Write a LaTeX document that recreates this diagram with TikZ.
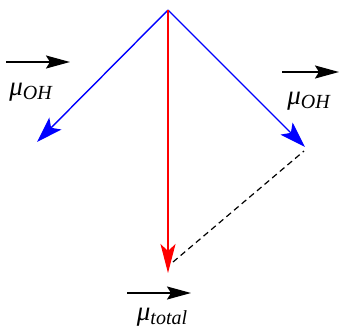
\documentclass[tikz,border=0pt]{standalone}
\usepackage{fontspec}
\setmainfont{Liberation Serif}
\usetikzlibrary{arrows.meta}

\newcommand{\dipole}[1]{\textit{μ}\raisebox{-0.35ex}{\fontsize{20}{22}\selectfont\textit{#1}}}

\begin{document}
\begin{tikzpicture}[
      x=1pt, y=-1pt,
      every node/.style={font=\fontsize{27}{30}\selectfont, inner sep=0pt},
      bond/.style={blue, line width=1.4pt,
                   -{Stealth[length=26pt, width=17pt, inset=6pt]}},
      total/.style={red, line width=1.4pt,
                    -{Stealth[length=29pt, width=15pt, inset=7pt]}},
      vec/.style={black, line width=1.8pt,
                  -{Stealth[length=24pt, width=13pt, inset=4pt]}},
      sum/.style={black, line width=1.2pt, dash pattern=on 6pt off 4pt},
    ]
    \useasboundingbox (0,0) rectangle (340,330);

    % ── Bond dipoles ────────────────────────────────────────
    \coordinate (o)  at (168,10);
    \coordinate (oh1) at (37,142);
    \coordinate (oh2) at (305,147);
    \coordinate (tot) at (168,273);
    \coordinate (d1) at (173,262);
    \coordinate (d2) at (304,151);

    \draw[bond]  (o) -- (oh1);
    \draw[bond]  (o) -- (oh2);
    \draw[total] (o) -- (tot);
    \draw[sum]   (d1) -- (d2);

    % ── Labels with vector arrows ───────────────────────────
    \coordinate (v1a) at (6,62);   \coordinate (v1b) at (70,62);
    \coordinate (v2a) at (282,72); \coordinate (v2b) at (339,72);
    \coordinate (v3a) at (127,293); \coordinate (v3b) at (191,293);

    \draw[vec] (v1a) -- (v1b);
    \draw[vec] (v2a) -- (v2b);
    \draw[vec] (v3a) -- (v3b);

    \node (mu1) at (31,92)  {\dipole{OH}};
    \node (mu2) at (309,101) {\dipole{OH}};
    \node (mu3) at (162,317) {\dipole{total}};
\end{tikzpicture}
\end{document}
